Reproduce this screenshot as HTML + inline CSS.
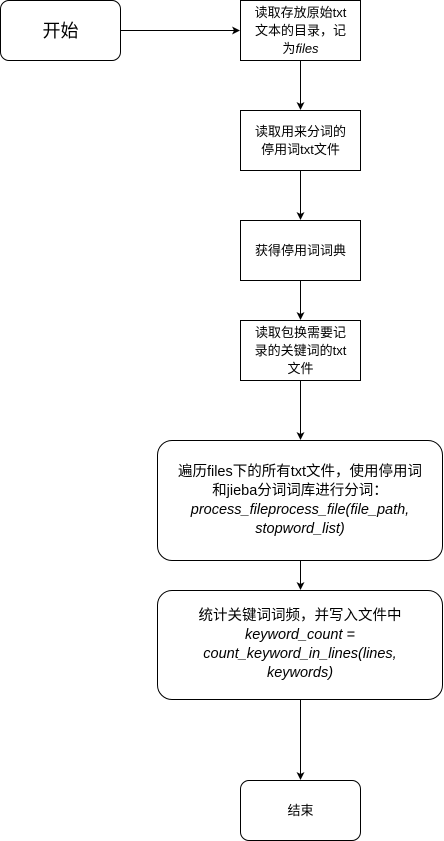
<!DOCTYPE html>
<html><head><meta charset="utf-8"><style>
body{margin:0;background:#fff;width:444px;height:841px;overflow:hidden;font-family:"Liberation Sans","Noto Sans CJK SC",sans-serif;}
.b{position:absolute;box-sizing:border-box;border:1px solid #000;background:#fff;display:flex;align-items:center;justify-content:center;text-align:center;font-size:13px;line-height:18px;color:#000}
.b>span{display:block;white-space:nowrap}
.w{font-size:14.5px;line-height:19px}
i{font-style:italic}
</style></head><body>
<svg width="444" height="841" style="position:absolute;left:0;top:0">
<defs><marker id="a" markerWidth="8" markerHeight="8" refX="7" refY="4" orient="auto" markerUnits="userSpaceOnUse"><path d="M0,0 L8,4 L0,8 L2,4 z" fill="#000"/></marker></defs>
<g stroke="#000" stroke-width="1" fill="none">
<line x1="120" y1="30.5" x2="239" y2="30.5" marker-end="url(#a)"/>
<line x1="300.5" y1="60" x2="300.5" y2="109" marker-end="url(#a)"/>
<line x1="300.5" y1="170" x2="300.5" y2="219" marker-end="url(#a)"/>
<line x1="300.5" y1="280" x2="300.5" y2="319" marker-end="url(#a)"/>
<line x1="300.5" y1="380" x2="300.5" y2="439" marker-end="url(#a)"/>
<line x1="300.5" y1="560" x2="300.5" y2="589" marker-end="url(#a)"/>
<line x1="300.5" y1="700" x2="300.5" y2="779" marker-end="url(#a)"/>
</g></svg>
<div class="b" style="left:0;top:0;width:121px;height:61px;border-radius:9px;font-size:18px"><span>开始</span></div>
<div class="b" style="left:240px;top:0;width:121px;height:61px"><span>读取存放原始txt<br>文本的目录，记<br>为<i>files</i></span></div>
<div class="b" style="left:240px;top:110px;width:121px;height:61px"><span>读取用来分词的<br>停用词txt文件</span></div>
<div class="b" style="left:240px;top:220px;width:121px;height:61px"><span>获得停用词词典</span></div>
<div class="b" style="left:240px;top:320px;width:121px;height:61px"><span>读取包换需要记<br>录的关键词的txt<br>文件</span></div>
<div class="b w" style="left:157px;top:440px;width:286px;height:121px;border-radius:15px"><span>遍历files下的所有txt文件，使用停用词<br>和jieba分词词库进行分词：<br><i>process_fileprocess_file(file_path,<br>stopword_list)</i></span></div>
<div class="b w" style="left:157px;top:590px;width:286px;height:110px;border-radius:15px"><span>统计关键词词频，并写入文件中<br><i>keyword_count =<br>count_keyword_in_lines(lines,<br>keywords)</i></span></div>
<div class="b" style="left:240px;top:780px;width:121px;height:61px;border-radius:9px"><span>结束</span></div>
</body></html>
